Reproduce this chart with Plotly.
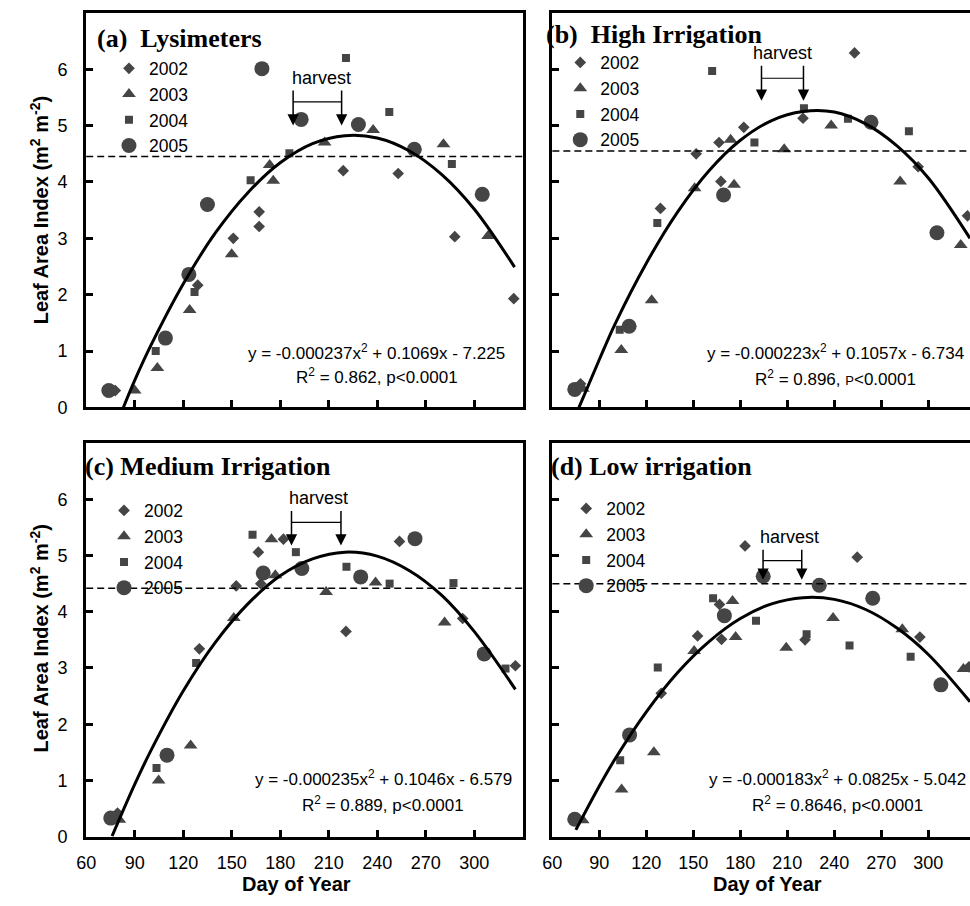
import plotly.graph_objects as go

# ---------------- data ----------------
years = ["2002", "2003", "2004", "2005"]

# (a) Lysimeters
a_doy_2002 = [78, 129, 151, 167, 167, 219, 253, 288, 324.5]
a_lai_2002 = [0.30, 2.17, 3.00, 3.47, 3.21, 4.20, 4.15, 3.03, 1.93]
a_doy_2003 = [90, 104, 124, 150, 173.5, 175.7, 207.5, 237.5, 281, 308.6]
a_lai_2003 = [0.30, 0.70, 1.73, 2.72, 4.30, 4.02, 4.70, 4.92, 4.67, 3.04]
a_doy_2004 = [103, 127, 161.7, 185.7, 220.7, 247.5, 286.2]
a_lai_2004 = [1.00, 2.05, 4.03, 4.51, 6.20, 5.24, 4.32]
a_doy_2005 = [74, 109, 123.5, 135, 168.7, 193, 228.4, 263, 305]
a_lai_2005 = [0.30, 1.23, 2.36, 3.60, 6.01, 5.11, 5.02, 4.58, 3.78]
a_fit_doy = [83, 90, 100, 120, 140, 160, 180, 200, 220, 240, 260, 280, 300, 325]
a_fit_lai = [0.0, 0.48, 1.10, 2.19, 3.10, 3.81, 4.34, 4.68, 4.82, 4.78, 4.55, 4.13, 3.52, 2.49]

# (b) High Irrigation
b_doy_2002 = [78, 129, 151.8, 166.4, 167.6, 182.2, 220, 252.9, 293.5, 325]
b_lai_2002 = [0.42, 3.53, 4.50, 4.70, 4.01, 4.97, 5.13, 6.29, 4.27, 3.40]
b_doy_2003 = [79.5, 104, 123.4, 150.8, 173.8, 176, 208, 238, 282, 320.7]
b_lai_2003 = [0.33, 1.02, 1.90, 3.89, 4.75, 3.95, 4.58, 5.00, 4.01, 2.88]
b_doy_2004 = [103, 127, 162, 189, 220.6, 248.7, 287.6]
b_lai_2004 = [1.38, 3.27, 5.97, 4.70, 5.31, 5.12, 4.90]
b_doy_2005 = [74.3, 109, 169.3, 263.4, 305.5]
b_lai_2005 = [0.32, 1.44, 3.77, 5.06, 3.10]
b_fit_doy = [77, 90, 100, 120, 140, 160, 180, 200, 220, 240, 260, 280, 300, 326.6]
b_fit_lai = [0.0, 0.85, 1.48, 2.56, 3.47, 4.20, 4.74, 5.09, 5.25, 5.24, 5.03, 4.64, 4.07, 3.00]

# (c) Medium Irrigation
c_doy_2002 = [79.4, 130, 152.8, 166.5, 168, 182, 220.7, 253.8, 292.9, 325.5]
c_lai_2002 = [0.42, 3.34, 4.46, 5.06, 4.50, 5.29, 3.65, 5.25, 3.88, 3.04]
c_doy_2003 = [80.5, 104.8, 124.6, 151.3, 174.6, 177, 208.4, 239, 281.7]
c_lai_2003 = [0.30, 1.00, 1.62, 3.89, 5.29, 4.65, 4.35, 4.52, 3.81]
c_doy_2004 = [103.5, 128, 162.9, 189.7, 221, 247.7, 287.2, 319.4]
c_lai_2004 = [1.22, 3.09, 5.37, 5.06, 4.80, 4.50, 4.51, 2.99]
c_doy_2005 = [75.2, 110, 169.5, 193.4, 229.8, 263.4, 306.2]
c_lai_2005 = [0.33, 1.45, 4.69, 4.77, 4.62, 5.30, 3.25]
c_fit_doy = [76, 90, 100, 120, 140, 160, 180, 200, 220, 240, 260, 280, 300, 325.5]
c_fit_lai = [0.01, 0.93, 1.53, 2.59, 3.46, 4.14, 4.64, 4.94, 5.06, 4.99, 4.73, 4.29, 3.65, 2.62]

# (d) Low irrigation
d_doy_2002 = [129.5, 152.7, 166.7, 168, 183, 221.3, 254.6, 294.6, 326]
d_lai_2002 = [2.55, 3.57, 4.13, 3.51, 5.17, 3.50, 4.97, 3.55, 3.02]
d_doy_2003 = [79.4, 104.2, 124.8, 150.5, 175, 177, 209.3, 239.2, 283.4, 322.4]
d_lai_2003 = [0.29, 0.84, 1.50, 3.30, 4.19, 3.55, 3.36, 3.89, 3.69, 2.98]
d_doy_2004 = [103.3, 127.3, 162.6, 190, 222.3, 249.7, 288.7]
d_lai_2004 = [1.36, 3.01, 4.24, 3.84, 3.60, 3.40, 3.20]
d_doy_2005 = [74.3, 109.3, 169.8, 194.6, 230.4, 264.5, 308]
d_lai_2005 = [0.31, 1.81, 3.93, 4.63, 4.47, 4.24, 2.70]
d_fit_doy = [75, 90, 100, 120, 140, 160, 180, 200, 220, 240, 260, 280, 300, 326.6]
d_fit_lai = [0.12, 0.90, 1.38, 2.22, 2.92, 3.47, 3.88, 4.14, 4.25, 4.22, 4.04, 3.71, 3.24, 2.40]

panel_titles = ["(a)  Lysimeters", "(b)  High Irrigation", "(c) Medium Irrigation", "(d) Low irrigation"]
eq_texts = [
    "y = -0.000237x<sup>2</sup> + 0.1069x - 7.225",
    "y = -0.000223x<sup>2</sup> + 0.1057x - 6.734",
    "y = -0.000235x<sup>2</sup> + 0.1046x - 6.579",
    "y = -0.000183x<sup>2</sup> + 0.0825x - 5.042",
]
r2_texts = [
    "R<sup>2</sup> = 0.862, p&lt;0.0001",
    "R<sup>2</sup> = 0.896, <span style='font-size:13px'>P</span>&lt;0.0001",
    "R<sup>2</sup> = 0.889, p&lt;0.0001",
    "R<sup>2</sup> = 0.8646, p&lt;0.0001",
]
lai_threshold = [4.45, 4.55, 4.42, 4.50]
harvest_start = [188, 193.5, 187, 194.5]
harvest_end = [218, 220.3, 217.6, 219.2]
x_ticks = [60, 90, 120, 150, 180, 210, 240, 270, 300, 330]
x_tick_text = ["60", "90", "120", "150", "180", "210", "240", "270", "300", ""]
y_ticks = [0, 1, 2, 3, 4, 5, 6]

# ---------------- styling / layout constants ----------------
SANS = "Liberation Sans, Arial, sans-serif"
SERIF = "Liberation Serif, Times New Roman, serif"
MCOL = "#454545"
sym = {"2002": ("diamond", 9), "2003": ("triangle-up", 12), "2004": ("square", 8), "2005": ("circle", 15)}

W, H = 970, 906
def px_x(p):
    return p / W
def px_y(p):
    return 1 - p / H

x_dom = [[px_x(77), px_x(518)], [px_x(548), 1.0], [px_x(77), px_x(518)], [px_x(548), 1.0]]
y_dom = [[px_y(412), px_y(13)], [px_y(412), px_y(13)], [px_y(846), px_y(448)], [px_y(846), px_y(448)]]
x_rng = [[60, 330], [60, 326.6], [60, 330], [60, 326.6]]

# arrow geometry (top, tip, bracket, text y, text x)
arrow_geo = [(5.65, 5.0, 5.42, 5.84, 205.7), (6.09, 5.44, 5.84, 6.28, 206.6),
             (5.82, 5.18, 5.59, 6.03, 203.4), (5.13, 4.57, 4.91, 5.33, 211.6)]
eq_pos = [(239.6, 0.98, 0.55), (241, 0.99, 0.53), (243.9, 1.04, 0.58), (242, 1.04, 0.58)]
title_pos = [(86, 39), (540, 35), (74, 472), (545, 472)]
legend_pos = [(100, 51), (556, 45), (95, 498), (562, 496)]

g = globals()
panels = []
for key in "abcd":
    panels.append({
        "years": {y: (g[f"{key}_doy_{y}"], g[f"{key}_lai_{y}"]) for y in years},
        "fit": (g[f"{key}_fit_doy"], g[f"{key}_fit_lai"]),
    })

fig = go.Figure()
annotations = []
shapes = []
layout = {}

for i, p in enumerate(panels):
    sfx = "" if i == 0 else str(i + 1)
    xa, ya = "x" + sfx, "y" + sfx
    leg = "legend" + sfx
    for y in years:
        xs, ys = p["years"][y]
        s, sz = sym[y]
        fig.add_trace(go.Scatter(
            x=xs, y=ys, mode="markers", name=y, xaxis=xa, yaxis=ya, legend=leg,
            marker=dict(symbol=s, size=sz, color=MCOL, line=dict(width=0)),
        ))
    fx, fy = p["fit"]
    fig.add_trace(go.Scatter(
        x=fx, y=fy, mode="lines", line=dict(color="black", width=3, shape="spline"),
        xaxis=xa, yaxis=ya, showlegend=False, hoverinfo="skip",
    ))

    left = i in (0, 2)
    bottom = i in (2, 3)
    layout["xaxis" + sfx] = dict(
        domain=x_dom[i], range=x_rng[i], anchor=ya,
        tickmode="array", tickvals=x_ticks, ticktext=x_tick_text,
        showticklabels=bottom, ticks="inside", ticklen=7, tickwidth=2.5, tickcolor="black",
        showline=True, linewidth=3, linecolor="black", mirror=True,
        showgrid=False, zeroline=False, ticklabelstandoff=8,
        tickfont=dict(family=SANS, size=18, color="black"),
    )
    layout["yaxis" + sfx] = dict(
        domain=y_dom[i], range=[0, 7], anchor=xa,
        tickmode="array", tickvals=y_ticks,
        showticklabels=left, ticks="inside", ticklen=7, tickwidth=2.5, tickcolor="black",
        showline=True, linewidth=3, linecolor="black", mirror=left,
        showgrid=False, zeroline=False, ticklabelstandoff=12,
        tickfont=dict(family=SANS, size=18, color="black"),
    )
    lx, ly = legend_pos[i]
    layout[leg] = dict(
        x=px_x(lx), y=px_y(ly), xanchor="left", yanchor="top",
        bgcolor="rgba(0,0,0,0)", borderwidth=0,
        font=dict(family=SANS, size=17.5, color="black"),
        itemwidth=30,
    )

    # dashed threshold line
    shapes.append(dict(type="line", xref=xa + " domain", yref=ya, x0=0, x1=1,
                       y0=lai_threshold[i], y1=lai_threshold[i],
                       line=dict(color="black", width=1.5, dash="7px,4px")))
    # harvest arrows
    top, tip, br, ty, tx = arrow_geo[i]
    for hx in (harvest_start[i], harvest_end[i]):
        annotations.append(dict(x=hx, y=tip, ax=hx, ay=top, xref=xa, yref=ya, axref=xa, ayref=ya,
                                text="", showarrow=True, arrowhead=2, arrowsize=1.5,
                                arrowwidth=1.5, arrowcolor="black", standoff=0))
    shapes.append(dict(type="line", xref=xa, yref=ya, x0=harvest_start[i], x1=harvest_end[i],
                       y0=br, y1=br, line=dict(color="black", width=1.2)))
    annotations.append(dict(x=tx, y=ty, xref=xa, yref=ya, text="harvest", showarrow=False,
                            font=dict(family=SANS, size=18, color="black")))
    # equation text
    ex, e1, e2 = eq_pos[i]
    annotations.append(dict(x=ex, y=e1, xref=xa, yref=ya, text=eq_texts[i], showarrow=False,
                            font=dict(family=SANS, size=17, color="black")))
    annotations.append(dict(x=ex, y=e2, xref=xa, yref=ya, text=r2_texts[i], showarrow=False,
                            font=dict(family=SANS, size=17, color="black")))
    # panel title
    tpx, tpy = title_pos[i]
    annotations.append(dict(x=px_x(tpx), y=px_y(tpy), xref="paper", yref="paper",
                            xanchor="left", yanchor="middle", text="<b>" + panel_titles[i] + "</b>",
                            showarrow=False, font=dict(family=SERIF, size=26, color="black")))

# axis titles
for cy in (213, 646):
    annotations.append(dict(x=px_x(30), y=px_y(cy), xref="paper", yref="paper", textangle=-90,
                            xanchor="center", yanchor="middle",
                            text="<b>Leaf Area Index (m<sup>2</sup> m<sup>-2</sup>)</b>", showarrow=False,
                            font=dict(family=SANS, size=20, color="black")))
for cx in (289, 765):
    annotations.append(dict(x=px_x(cx), y=px_y(894), xref="paper", yref="paper",
                            xanchor="center", yanchor="middle",
                            text="<b>Day of Year</b>", showarrow=False,
                            font=dict(family=SANS, size=20, color="black")))

fig.update_layout(
    width=W, height=H, margin=dict(l=0, r=0, t=0, b=0),
    paper_bgcolor="white", plot_bgcolor="white",
    annotations=annotations, shapes=shapes, **layout,
)

fig.write_html("out.html")
